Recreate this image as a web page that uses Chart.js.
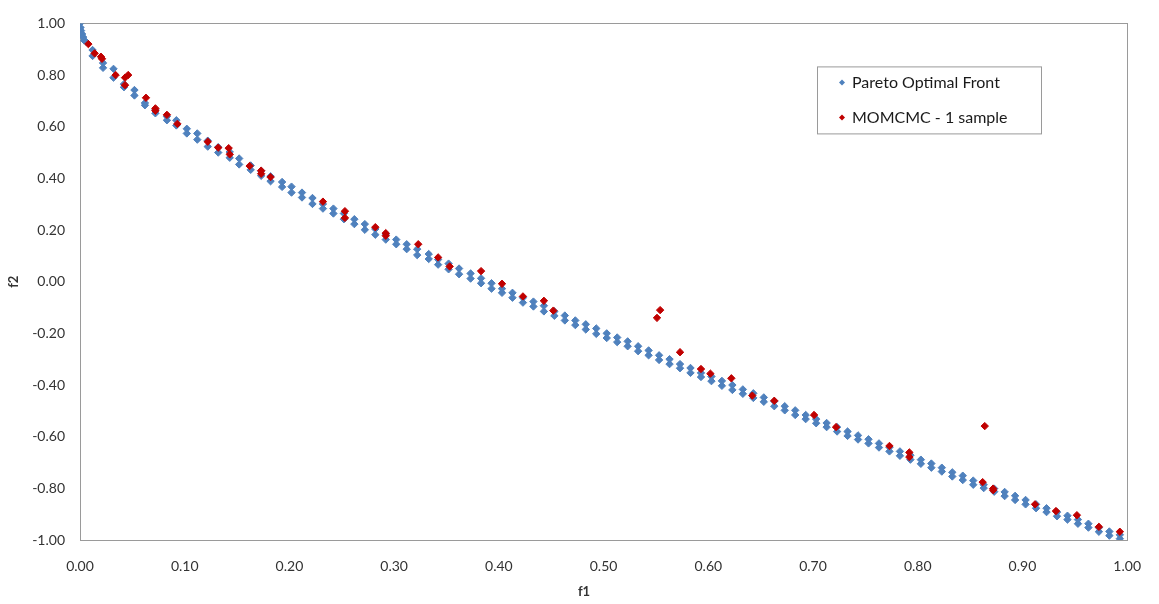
<!DOCTYPE html>
<html>
<head>
<meta charset="utf-8">
<script src="https://cdn.jsdelivr.net/npm/chart.js@4/dist/chart.umd.min.js"></script>
<style>
  html, body { margin: 0; padding: 0; background: #ffffff; }
  #wrap { width: 1159px; height: 604px; position: relative; }
</style>
</head>
<body>
<div id="wrap"><canvas id="chart"></canvas></div>
<script>
// Pareto optimal front: f1 positions, with the upper and lower point of each pair
const paretoF1 = [
  0, 0.0005, 0.001, 0.002, 0.003, 0.004, 0.006,
  0.012, 0.022, 0.032, 0.042, 0.052, 0.062, 0.072, 0.083, 0.092,
  0.102, 0.112, 0.122, 0.132, 0.143, 0.152, 0.163, 0.173, 0.182, 0.193,
  0.202, 0.212, 0.222, 0.232, 0.242, 0.252, 0.262, 0.272, 0.282, 0.292,
  0.302, 0.312, 0.322, 0.333, 0.342, 0.352, 0.362, 0.373, 0.383, 0.393,
  0.403, 0.413, 0.423, 0.433, 0.443, 0.453, 0.463, 0.473, 0.483, 0.493,
  0.503, 0.513, 0.523, 0.533, 0.543, 0.553, 0.563, 0.573, 0.583, 0.593,
  0.603, 0.613, 0.623, 0.633, 0.643, 0.653, 0.663, 0.673, 0.683, 0.693,
  0.703, 0.713, 0.723, 0.733, 0.743, 0.753, 0.763, 0.773, 0.783, 0.793,
  0.803, 0.813, 0.823, 0.833, 0.843, 0.853, 0.863, 0.873, 0.883, 0.893,
  0.903, 0.913, 0.923, 0.933, 0.943, 0.953, 0.963, 0.973, 0.983, 0.993
];
const paretoF2Upper = [
  1.000, 0.984, 0.972, 0.959, 0.947, 0.934, 0.928,
  0.897, 0.847, 0.824, 0.765, 0.742, 0.692, 0.665, 0.640, 0.625,
  0.592, 0.574, 0.546, 0.521, 0.502, 0.477, 0.450, 0.429, 0.408, 0.386,
  0.368, 0.345, 0.324, 0.301, 0.283, 0.264, 0.242, 0.223, 0.204, 0.185,
  0.163, 0.145, 0.126, 0.107, 0.086, 0.070, 0.051, 0.032, 0.013, -0.006,
  -0.027, -0.043, -0.062, -0.077, -0.093, -0.115, -0.131, -0.150, -0.165, -0.181,
  -0.200, -0.216, -0.231, -0.250, -0.266, -0.285, -0.300, -0.319, -0.334, -0.353,
  -0.367, -0.384, -0.400, -0.417, -0.432, -0.448, -0.463, -0.482, -0.498, -0.516,
  -0.532, -0.547, -0.563, -0.580, -0.595, -0.610, -0.626, -0.641, -0.657, -0.672,
  -0.689, -0.704, -0.720, -0.738, -0.751, -0.770, -0.786, -0.801, -0.814, -0.829,
  -0.845, -0.862, -0.877, -0.892, -0.906, -0.921, -0.937, -0.952, -0.967, -0.980
];
const paretoF2Lower = [
  null, null, null, null, null, null, null,
  0.874, 0.828, 0.790, 0.753, 0.721, 0.683, 0.652, 0.625, 0.605,
  0.574, 0.550, 0.523, 0.500, 0.480, 0.454, 0.433, 0.410, 0.389, 0.367,
  0.345, 0.326, 0.301, 0.283, 0.264, 0.242, 0.223, 0.201, 0.182, 0.163,
  0.145, 0.126, 0.103, 0.088, 0.066, 0.048, 0.029, 0.012, -0.006, -0.027,
  -0.043, -0.062, -0.081, -0.096, -0.115, -0.132, -0.150, -0.168, -0.185, -0.202,
  -0.218, -0.234, -0.250, -0.269, -0.285, -0.303, -0.319, -0.335, -0.353, -0.369,
  -0.385, -0.403, -0.419, -0.434, -0.450, -0.465, -0.482, -0.498, -0.516, -0.532,
  -0.548, -0.563, -0.580, -0.597, -0.611, -0.626, -0.642, -0.657, -0.674, -0.689,
  -0.705, -0.720, -0.735, -0.754, -0.768, -0.786, -0.799, -0.813, -0.830, -0.845,
  -0.862, -0.877, -0.892, -0.908, -0.921, -0.937, -0.952, -0.968, -0.983, -0.995
];

// MOMCMC, one sample
const momcmcF1 = [
  0.008, 0.014, 0.020, 0.021, 0.034, 0.043, 0.046, 0.043, 0.063, 0.072,
  0.072, 0.083, 0.093, 0.122, 0.132, 0.142, 0.143, 0.162, 0.173, 0.173,
  0.182, 0.232, 0.253, 0.253, 0.282, 0.292, 0.292, 0.323, 0.342, 0.353,
  0.383, 0.403, 0.423, 0.443, 0.452, 0.551, 0.554, 0.573, 0.593, 0.602,
  0.622, 0.642, 0.663, 0.701, 0.722, 0.773, 0.792, 0.792, 0.864, 0.862,
  0.872, 0.872, 0.912, 0.932, 0.952, 0.973, 0.993
];
const momcmcF2 = [
  0.920, 0.884, 0.871, 0.863, 0.800, 0.790, 0.800, 0.761, 0.712, 0.671,
  0.662, 0.646, 0.611, 0.542, 0.519, 0.517, 0.493, 0.448, 0.430, 0.418,
  0.405, 0.310, 0.273, 0.247, 0.211, 0.188, 0.178, 0.145, 0.094, 0.059,
  0.041, -0.008, -0.057, -0.074, -0.112, -0.140, -0.110, -0.273, -0.338, -0.356,
  -0.374, -0.441, -0.461, -0.516, -0.563, -0.636, -0.661, -0.679, -0.559, -0.776,
  -0.801, -0.807, -0.862, -0.888, -0.904, -0.949, -0.968
];

// Axis ticks
const xTicks = [0, 0.1, 0.2, 0.3, 0.4, 0.5, 0.6, 0.7, 0.8, 0.9, 1.0];
const yTicks = [-1.0, -0.8, -0.6, -0.4, -0.2, 0, 0.2, 0.4, 0.6, 0.8, 1.0];

const seriesNames = ['Pareto Optimal Front', 'MOMCMC - 1 sample'];
const xTitle = 'f1';
const yTitle = 'f2';

const FONT = "Lato, 'Open Sans', 'Liberation Sans', sans-serif";
const BLUE = '#4F81BD';
const RED = '#C00000';

const paretoPoints = [];
paretoF1.forEach((x, i) => {
  paretoPoints.push({ x: x, y: paretoF2Upper[i] });
  if (paretoF2Lower[i] !== null) paretoPoints.push({ x: x, y: paretoF2Lower[i] });
});
const momcmcPoints = momcmcF1.map((x, i) => ({ x: x, y: momcmcF2[i] }));

const fmt = v => (Math.abs(v) < 1e-9 ? 0 : v).toFixed(2);

// Gray frame round the plot area
const plotFrame = {
  id: 'plotFrame',
  beforeDatasetsDraw(chart) {
    const a = chart.chartArea, ctx = chart.ctx;
    ctx.save();
    ctx.strokeStyle = '#9a9a9a';
    ctx.lineWidth = 1;
    ctx.strokeRect(Math.round(a.left) + 0.5, Math.round(a.top) + 0.5,
                   Math.round(a.right - a.left), Math.round(a.bottom - a.top));
    ctx.restore();
  }
};

// Horizontal axis title, centred on the canvas below the tick labels
const xAxisTitle = {
  id: 'xAxisTitle',
  afterDraw(chart) {
    const ctx = chart.ctx;
    ctx.save();
    ctx.font = 'bold 13px ' + FONT;
    ctx.fillStyle = '#333333';
    ctx.textAlign = 'center';
    ctx.textBaseline = 'middle';
    ctx.fillText(xTitle, 584, chart.chartArea.bottom + 52);
    ctx.restore();
  }
};

// Boxed legend inside the upper right of the plot area
const boxLegend = {
  id: 'boxLegend',
  afterDraw(chart) {
    const a = chart.chartArea, ctx = chart.ctx;
    const left = a.left + 737, top = a.top + 43, w = 224, h = 67;
    ctx.save();
    ctx.fillStyle = '#ffffff';
    ctx.fillRect(left, top, w, h);
    ctx.strokeStyle = '#9a9a9a';
    ctx.lineWidth = 1;
    ctx.strokeRect(left + 0.5, top + 0.5, w, h);
    ctx.font = '16px ' + FONT;
    ctx.textBaseline = 'middle';
    ctx.textAlign = 'left';
    chart.data.datasets.forEach((ds, i) => {
      const cy = top + 16 + i * 35;
      const cx = left + 25;
      ctx.fillStyle = ds.backgroundColor;
      ctx.beginPath();
      ctx.moveTo(cx, cy - 3);
      ctx.lineTo(cx + 3, cy);
      ctx.lineTo(cx, cy + 3);
      ctx.lineTo(cx - 3, cy);
      ctx.closePath();
      ctx.fill();
      ctx.fillStyle = '#1a1a1a';
      ctx.fillText(ds.label, left + 35, cy);
    });
    ctx.restore();
  }
};

new Chart(document.getElementById('chart'), {
  type: 'scatter',
  data: {
    datasets: [
      {
        label: seriesNames[0],
        data: paretoPoints,
        backgroundColor: BLUE,
        borderColor: BLUE,
        borderWidth: 1,
        pointStyle: 'rectRot',
        pointRadius: 3.7,
        order: 2
      },
      {
        label: seriesNames[1],
        data: momcmcPoints,
        backgroundColor: RED,
        borderColor: RED,
        borderWidth: 1,
        pointStyle: 'rectRot',
        pointRadius: 3.7,
        order: 1
      }
    ]
  },
  options: {
    responsive: true,
    maintainAspectRatio: false,
    animation: false,
    layout: { padding: { left: 0, top: 8, right: 30, bottom: 0 } },
    plugins: {
      legend: { display: false },
      tooltip: { enabled: false }
    },
    scales: {
      x: {
        type: 'linear',
        min: 0,
        max: 1,
        afterBuildTicks: s => { s.ticks = xTicks.map(v => ({ value: v })); },
        afterFit: s => { s.height = 64; },
        ticks: {
          callback: v => fmt(v),
          font: { family: FONT, size: 14 },
          color: '#333333',
          padding: 18,
          maxRotation: 0
        },
        grid: { display: false, drawTicks: false },
        border: { display: true, color: '#a6a6a6', width: 1 }
      },
      y: {
        type: 'linear',
        min: -1,
        max: 1,
        afterBuildTicks: s => { s.ticks = yTicks.map(v => ({ value: v })); },
        afterFit: s => { s.width = 80; },
        ticks: {
          callback: v => fmt(v),
          font: { family: FONT, size: 14 },
          color: '#333333',
          padding: 15
        },
        grid: { display: false, drawTicks: false },
        border: { display: true, color: '#a6a6a6', width: 1 },
        title: {
          display: true,
          text: yTitle,
          font: { family: FONT, size: 13, weight: 'bold' },
          color: '#333333',
          padding: { top: 6, bottom: 0 }
        }
      }
    }
  },
  plugins: [plotFrame, xAxisTitle, boxLegend]
});
</script>
</body>
</html>
